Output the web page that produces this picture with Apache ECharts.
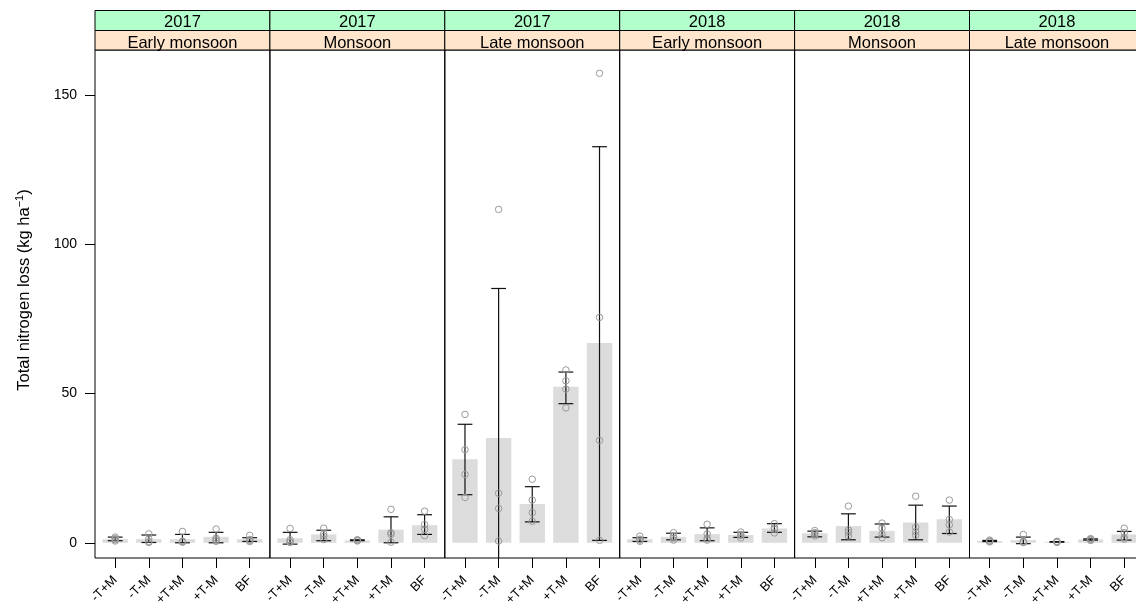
<!DOCTYPE html>
<html lang="en">
<head>
    <meta http-equiv="Content-Type" content="text/html; charset=utf-8"/>
    <title>Total nitrogen loss</title>
    <script type="text/javascript" src="https://cdn.jsdelivr.net/npm/echarts@6.0.0/dist/echarts.min.js"></script>
</head>
<style>
    * {
        margin: 0;
        padding: 0;
    }
    html, body {
        width: 100%;
        height: 100%;
        background: #fff;
    }
    .main {
        width: 1136px;
        height: 608px;
    }
</style>
<body>
<div id="main" class="main"></div>
</body>
<script type="text/javascript">

    // panel headers
    var years = ['2017', '2017', '2017', '2018', '2018', '2018'];
    var seasons = ['Early monsoon', 'Monsoon', 'Late monsoon', 'Early monsoon', 'Monsoon', 'Late monsoon'];
    var treatments = ['-T+M', '-T-M', '+T+M', '+T-M', 'BF'];
    var yTicks = [0, 50, 100, 150];

    // bar height (mean) per panel, per treatment
    var means = [
        [1.2, 1.2, 1.2, 2.0, 1.2],
        [1.5, 2.8, 0.8, 4.4, 5.9],
        [28.0, 35.1, 13.0, 52.3, 66.9],
        [1.2, 2.0, 2.9, 2.6, 4.8],
        [3.2, 5.6, 4.0, 6.8, 7.9],
        [0.6, 0.9, 0.3, 1.1, 2.8]
    ];
    // error bar ends
    var lows = [
        [0.7, 0.1, 0.0, 0.0, 0.45],
        [-0.45, 0.7, 0.7, 0.0, 2.8],
        [16.1, -15.0, 7.0, 46.6, 0.8],
        [0.45, 1.0, 0.7, 1.8, 3.5],
        [2.0, 1.0, 1.9, 1.0, 3.1],
        [0.4, -0.3, 0.2, 0.9, 0.9]
    ];
    var highs = [
        [1.9, 2.6, 2.8, 3.5, 1.7],
        [3.5, 4.2, 1.0, 8.7, 9.4],
        [39.7, 85.2, 18.8, 57.2, 132.7],
        [1.7, 3.2, 5.0, 3.5, 6.4],
        [3.9, 9.7, 6.3, 12.6, 12.3],
        [0.8, 1.9, 0.4, 1.3, 3.8]
    ];
    // single observations (open circles)
    var points = [
        [[1.9, 1.4, 1.0, 0.6], [3.0, 1.3, 0.4, 0.1], [3.8, 0.5, 0.3, 0.2], [4.6, 1.6, 1.1, 0.5], [2.5, 1.1, 0.8, 0.4]],
        [[4.8, 1.0, 0.3, 0.1], [4.9, 3.0, 2.2, 1.1], [1.0, 0.9, 0.8, 0.6], [11.2, 3.4, 2.8, 0.2], [10.6, 6.1, 4.5, 2.4]],
        [[43.0, 31.2, 22.9, 15.2], [111.7, 16.6, 11.5, 0.6], [21.3, 14.3, 10.1, 7.2], [57.9, 54.3, 51.5, 45.2], [157.3, 75.5, 34.3, 0.8]],
        [[2.2, 1.2, 0.9, 0.5], [3.4, 2.1, 1.5, 0.9], [6.2, 3.0, 1.5, 0.9], [3.6, 2.8, 2.4, 1.6], [6.4, 5.0, 4.5, 3.3]],
        [[4.1, 3.4, 3.0, 2.3], [12.3, 4.3, 3.5, 2.3], [6.6, 4.9, 2.8, 1.7], [15.6, 5.2, 3.7, 2.5], [14.3, 7.8, 6.0, 3.6]],
        [[0.9, 0.6, 0.5, 0.3], [2.8, 0.5, 0.2, 0.1], [0.5, 0.3, 0.2, 0.2], [1.4, 1.2, 1.0, 0.8], [4.9, 3.4, 1.7, 1.2]]
    ];

    var FONT = 'Liberation Sans, Arial, sans-serif';
    var panelLeft = 95;
    var panelWidth = 174.9;
    var panelTop = 50;
    var panelBottom = 50;   // 608 - 558
    var xPositions = [1, 2, 3, 4, 5];

    var grids = [], xAxes = [], yAxes = [], series = [], graphics = [];

    for (var i = 0; i < years.length; i++) {
        var left = panelLeft + i * panelWidth;
        grids.push({
            left: left,
            width: panelWidth,
            top: panelTop,
            bottom: panelBottom,
            outerBoundsMode: 'none',
            containLabel: false,
            show: true,
            borderColor: '#000',
            borderWidth: 1,
            backgroundColor: 'transparent'
        });
        xAxes.push({
            type: 'value',
            gridIndex: i,
            min: 0.4,
            max: 5.6,
            axisLine: {show: false, onZero: false},
            splitLine: {show: false},
            axisTick: {
                show: true,
                customValues: xPositions,
                length: 10,
                lineStyle: {color: '#000', width: 1}
            },
            axisLabel: {
                show: true,
                customValues: xPositions,
                rotate: 45,
                margin: 20,
                color: '#000',
                fontSize: 13,
                fontFamily: FONT,
                formatter: function (v) {
                    return treatments[Math.round(v) - 1];
                }
            }
        });
        var yAxis = {
            type: 'value',
            gridIndex: i,
            min: -5.1,
            max: 165.1,
            axisLine: {show: false, onZero: false},
            splitLine: {show: false},
            axisTick: {show: false},
            axisLabel: {show: false}
        };
        if (i === 0) {
            yAxis.axisTick = {
                show: true,
                customValues: yTicks,
                length: 10,
                lineStyle: {color: '#000', width: 1}
            };
            yAxis.axisLabel = {
                show: true,
                customValues: yTicks,
                margin: 18,
                color: '#000',
                fontSize: 14,
                fontFamily: FONT
            };
        }
        yAxes.push(yAxis);

        var barData = [], errData = [], ptData = [];
        for (var j = 0; j < treatments.length; j++) {
            barData.push([xPositions[j], means[i][j]]);
            errData.push([xPositions[j], lows[i][j], highs[i][j]]);
            for (var k = 0; k < points[i][j].length; k++) {
                ptData.push([xPositions[j], points[i][j][k]]);
            }
        }

        // gray bars
        series.push({
            type: 'custom',
            xAxisIndex: i,
            yAxisIndex: i,
            clip: true,
            silent: true,
            data: barData,
            renderItem: function (params, api) {
                var x = api.value(0), y = api.value(1);
                var p0 = api.coord([x - 0.377, y]);
                var p1 = api.coord([x + 0.377, 0]);
                return {
                    type: 'rect',
                    shape: {x: p0[0], y: p0[1], width: p1[0] - p0[0], height: p1[1] - p0[1]},
                    style: {fill: '#dcdcdc'}
                };
            }
        });
        // observations
        series.push({
            type: 'scatter',
            xAxisIndex: i,
            yAxisIndex: i,
            silent: true,
            symbol: 'circle',
            symbolSize: 6.5,
            itemStyle: {color: 'transparent', borderColor: '#9a9a9a', borderWidth: 1, opacity: 1},
            data: ptData
        });
        // error bars
        series.push({
            type: 'custom',
            xAxisIndex: i,
            yAxisIndex: i,
            clip: true,
            silent: true,
            data: errData,
            renderItem: function (params, api) {
                var x = api.value(0);
                var lo = api.coord([x, api.value(1)]);
                var hi = api.coord([x, api.value(2)]);
                var cap = api.coord([x + 0.22, 0])[0] - lo[0];
                var style = {stroke: '#111', lineWidth: 1.2};
                return {
                    type: 'group',
                    children: [
                        {type: 'line', shape: {x1: lo[0], y1: lo[1], x2: hi[0], y2: hi[1]}, style: style},
                        {type: 'line', shape: {x1: lo[0] - cap, y1: lo[1], x2: lo[0] + cap, y2: lo[1]}, style: style},
                        {type: 'line', shape: {x1: hi[0] - cap, y1: hi[1], x2: hi[0] + cap, y2: hi[1]}, style: style}
                    ]
                };
            }
        });

        // strip headers
        graphics.push({
            type: 'rect',
            shape: {x: left, y: 10.5, width: panelWidth, height: 20},
            style: {fill: '#b3ffcc', stroke: '#000', lineWidth: 1}
        });
        graphics.push({
            type: 'rect',
            shape: {x: left, y: 30.5, width: panelWidth, height: 19.5},
            style: {fill: '#ffe5cc', stroke: '#000', lineWidth: 1}
        });
        graphics.push({
            type: 'text',
            x: left + panelWidth / 2,
            y: 22,
            style: {text: years[i], fill: '#000', font: '16.5px ' + FONT, align: 'center', verticalAlign: 'middle'}
        });
        graphics.push({
            type: 'text',
            x: left + panelWidth / 2,
            y: 43,
            style: {text: seasons[i], fill: '#000', font: '16.5px ' + FONT, align: 'center', verticalAlign: 'middle'}
        });
    }

    // y axis title, rotated, with superscript
    graphics.push({
        type: 'text',
        x: 24,
        y: 290,
        rotation: Math.PI / 2,
        style: {
            text: '{a|Total nitrogen loss (kg ha}{s|\u22121}{a|)}',
            align: 'center',
            verticalAlign: 'middle',
            rich: {
                a: {fontSize: 16.5, fontFamily: FONT, fill: '#000', lineHeight: 20},
                s: {fontSize: 11, fontFamily: FONT, fill: '#000', lineHeight: 20, verticalAlign: 'top'}
            }
        }
    });

    var chart = echarts.init(document.getElementById('main'), null, {renderer: 'canvas'});
    var option = {
        backgroundColor: '#fff',
        animation: false,
        grid: grids,
        xAxis: xAxes,
        yAxis: yAxes,
        series: series,
        graphic: graphics
    };
    chart.setOption(option);
</script>

</html>
